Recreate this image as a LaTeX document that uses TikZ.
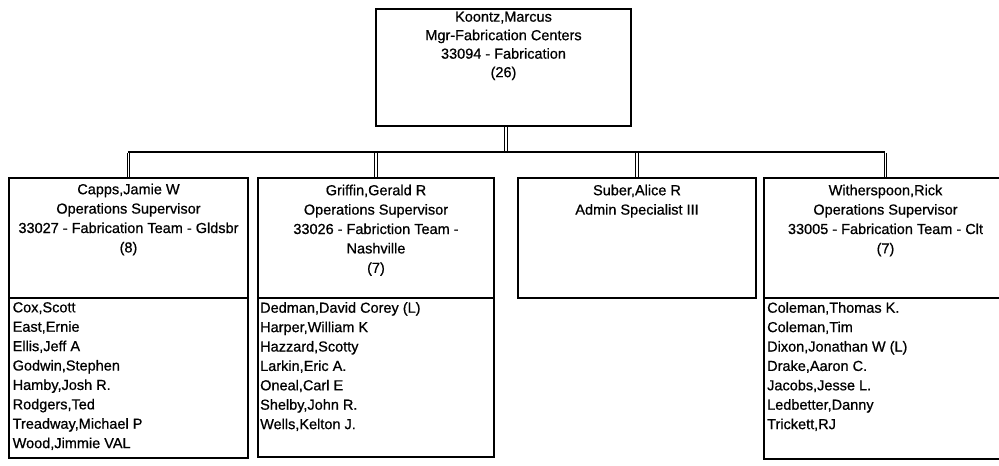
\documentclass[tikz,border=0pt]{standalone}
\usepackage{fontspec}
\setmainfont{Liberation Sans}[FakeBold=0.7]
\begin{document}
\begin{tikzpicture}[x=1pt,y=-1pt,
  box/.style={draw=black, line width=2pt, inner sep=0pt, anchor=north west, fill=white},
  hdr/.style={anchor=north, inner sep=0pt, align=center, font=\fontsize{14.5}{19.4}\selectfont},
  tophdr/.style={anchor=north, inner sep=0pt, align=center, font=\fontsize{14.5}{18.5}\selectfont},
  lst/.style={anchor=north west, inner sep=0pt, align=left, font=\fontsize{14.5}{19.4}\selectfont},
  bus/.style={line width=1.8pt},
  drop/.style={draw=black, double=white, double distance=1.6pt, line width=1.1pt}]
\useasboundingbox (0,0) rectangle (999,466);

% top box
\node[box, minimum width=255, minimum height=117] (top) at (375,8) {};
\node[tophdr] (topT) at ([yshift=-3.5pt]top.north) {Koontz,Marcus\\Mgr-Fabrication Centers\\33094 - Fabrication\\(26)};

% header boxes
\node[box, minimum width=239, minimum height=120] (capps) at (8,177) {};
\node[box, minimum width=236, minimum height=120] (griffin) at (257,177) {};
\node[box, minimum width=238, minimum height=120] (suber) at (517,177) {};
\node[box, minimum width=243, minimum height=120] (wither) at (763,177) {};

\node[hdr] (cappsT) at ([yshift=-6.5pt]capps.north) {Capps,Jamie W\\Operations Supervisor\\33027 - Fabrication Team - Gldsbr\\(8)};
\node[hdr] (griffinT) at ([yshift=-7.5pt]griffin.north) {Griffin,Gerald R\\Operations Supervisor\\33026 - Fabriction Team -\\Nashville\\(7)};
\node[hdr] (suberT) at ([yshift=-7.5pt]suber.north) {Suber,Alice R\\Admin Specialist III};
\node[hdr] (witherT) at ([yshift=-7.5pt]wither.north) {Witherspoon,Rick\\Operations Supervisor\\33005 - Fabrication Team - Clt\\(7)};

% list boxes
\node[box, minimum width=239, minimum height=160] (cappsL) at (8,297) {};
\node[box, minimum width=236, minimum height=159] (griffinL) at (257,297) {};
\node[box, minimum width=243, minimum height=161] (witherL) at (763,297) {};

\node[lst] (cappsLT) at ([xshift=4.5pt,yshift=-5pt]cappsL.north west) {Cox,Scott\\East,Ernie\\Ellis,Jeff A\\Godwin,Stephen\\Hamby,Josh R.\\Rodgers,Ted\\Treadway,Michael P\\Wood,Jimmie VAL};
\node[lst] (griffinLT) at ([xshift=3pt,yshift=-5pt]griffinL.north west) {Dedman,David Corey (L)\\Harper,William K\\Hazzard,Scotty\\Larkin,Eric A.\\Oneal,Carl E\\Shelby,John R.\\Wells,Kelton J.};
\node[lst] (witherLT) at ([xshift=4pt,yshift=-5pt]witherL.north west) {Coleman,Thomas K.\\Coleman,Tim\\Dixon,Jonathan W (L)\\Drake,Aaron C.\\Jacobs,Jesse L.\\Ledbetter,Danny\\Trickett,RJ};

% connectors
\coordinate (busL) at (128,152);
\coordinate (busR) at (885,152);
\draw[bus] (busL) -- (busR);
\draw[drop] ([xshift=2.5pt]top.south) -- ([xshift=2.5pt,yshift=0.9pt]top.south |- busL);
\draw[drop] ([yshift=-0.9pt]capps.north |- busL) -- (capps.north);
\draw[drop] ([yshift=-0.9pt]griffin.north |- busL) -- (griffin.north);
\draw[drop] ([yshift=-0.9pt]suber.north |- busL) -- (suber.north);
\draw[drop] ([yshift=-0.9pt]wither.north |- busL) -- (wither.north);
\end{tikzpicture}
\end{document}
